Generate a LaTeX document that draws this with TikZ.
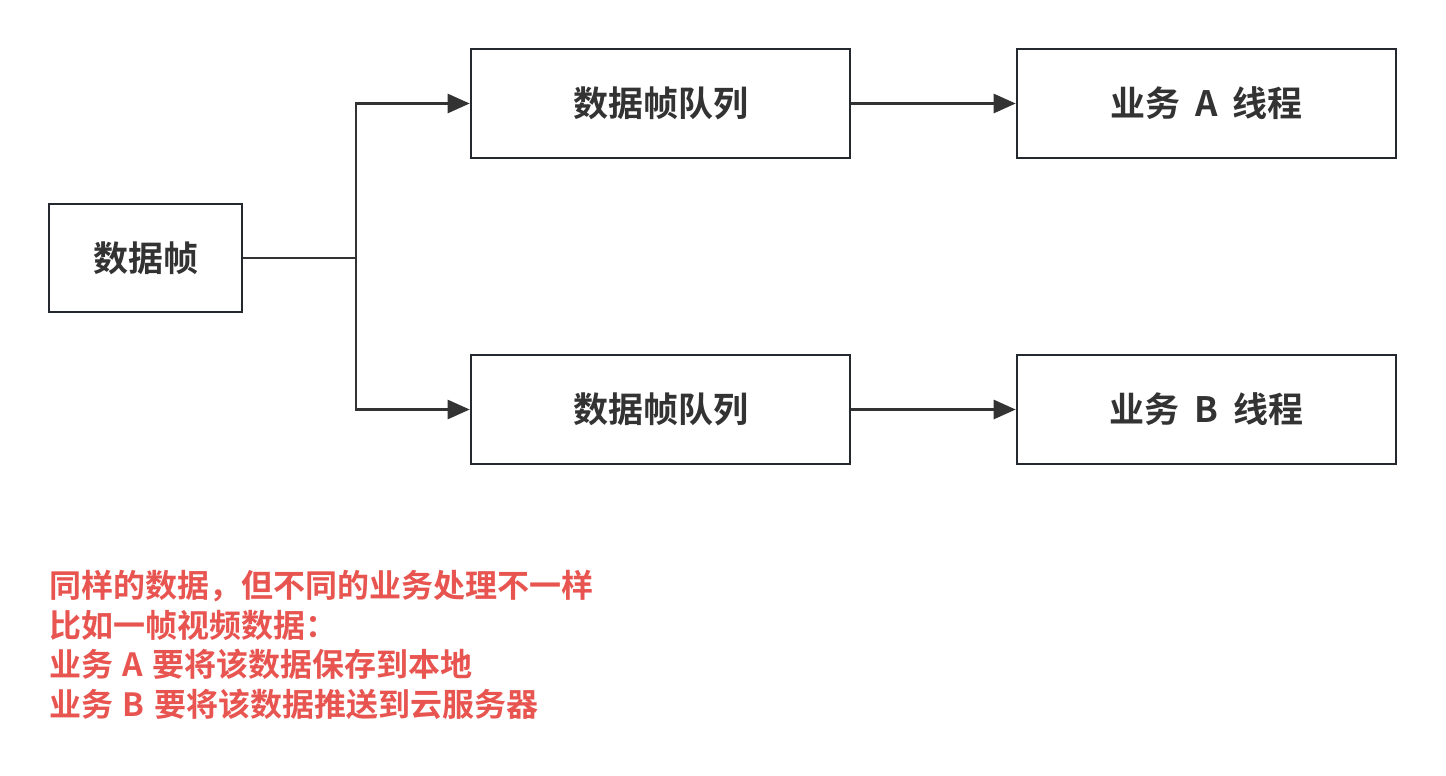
\documentclass[tikz,border=0pt]{standalone}
\usepackage{fontspec}
\newfontfamily\cjk{Noto Sans CJK SC}[BoldFont={Noto Sans CJK SC Bold}]
\usetikzlibrary{arrows.meta}
\definecolor{boxline}{HTML}{23292E}
\definecolor{txt}{HTML}{333333}
\definecolor{note}{HTML}{E85450}
\newcommand{\gap}{\hspace{0.42em}}
\newcommand{\ngap}{\hspace{0.3em}}
\begin{document}
\begin{tikzpicture}[x=1pt,y=-1pt,
  box/.style={draw=boxline,line width=2.6pt,fill=white,minimum width=379pt,minimum height=109pt,inner sep=0pt,font=\cjk\bfseries\fontsize{35}{42}\selectfont,text=txt},
  conn/.style={draw=txt,line width=2.6pt,-{Triangle[length=22pt,width=19pt]}},
  notetext/.style={anchor=north west,align=left,inner sep=0pt,text=note,font=\cjk\bfseries\fontsize{32}{39.7}\selectfont}]
\useasboundingbox[fill=white] (0,0) rectangle (1446,776);
\node[box,minimum width=193pt,minimum height=108pt] (src) at (145.5,258) {数据帧};
\node[box] (qa) at (660.5,103.5) {数据帧队列};
\node[box] (ta) at (1206.5,103.5) {业务\gap A\gap 线程};
\node[box] (qb) at (660.5,409.5) {数据帧队列};
\node[box] (tb) at (1206.5,409.5) {业务\gap B\gap 线程};
\coordinate (br) at (356,258);
\draw[draw=txt,line width=2.6pt] (src.east) -- (br);
\draw[conn] (br) |- (qa.west);
\draw[conn] (br) |- (qb.west);
\draw[conn] (qa.east) -- (ta.west);
\draw[conn] (qb.east) -- (tb.west);
\node[notetext] (note) at (49,570) {同样的数据，但不同的业务处理不一样\\比如一帧视频数据：\\业务\ngap A\ngap 要将该数据保存到本地\\业务\ngap B\ngap 要将该数据推送到云服务器};
\end{tikzpicture}
\end{document}
